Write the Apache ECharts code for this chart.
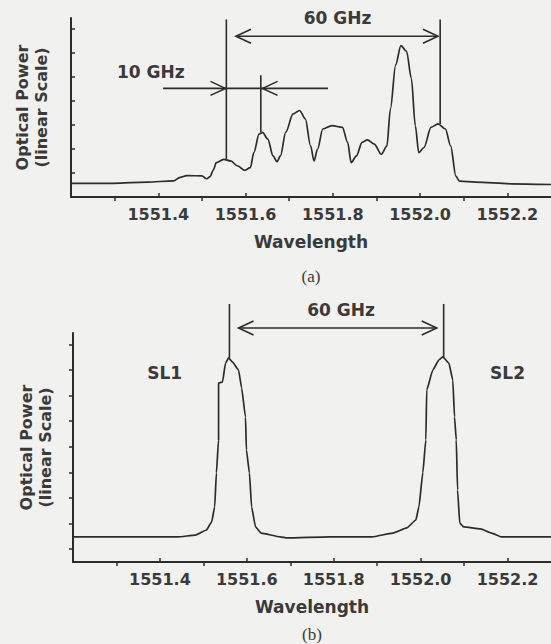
<!DOCTYPE html>
<html><head><meta charset="utf-8">
<script src="https://cdn.jsdelivr.net/npm/echarts@6/dist/echarts.min.js"></script>
<style>html,body{margin:0;padding:0;background:#f1f1ef}#c{width:551px;height:644px}</style>
</head><body><div id="c"></div><script>
// ---------- data ----------
const majorTicks = [1551.4, 1551.6, 1551.8, 1552.0, 1552.2];
const minorTicks = [1551.3, 1551.5, 1551.7, 1551.9, 1552.1];
const yTicksA = [1, 2, 3, 4, 5, 6, 7];
const yTicksB = [0, 1, 2, 3, 4, 5, 6, 7, 8];

// panel (a): optical power vs wavelength
const aWave = [
  1551.200, 1551.297, 1551.374, 1551.435, 1551.450, 1551.465, 1551.500, 1551.511, 1551.519, 1551.526,
  1551.533, 1551.550, 1551.566, 1551.582, 1551.598, 1551.611, 1551.619, 1551.631, 1551.639, 1551.651,
  1551.663, 1551.672, 1551.680, 1551.692, 1551.709, 1551.724, 1551.737, 1551.749, 1551.757, 1551.765,
  1551.777, 1551.798, 1551.822, 1551.834, 1551.842, 1551.854, 1551.867, 1551.879, 1551.895, 1551.911,
  1551.924, 1551.932, 1551.944, 1551.956, 1551.969, 1551.980, 1551.989, 1551.997, 1552.009, 1552.025,
  1552.041, 1552.058, 1552.070, 1552.082, 1552.090, 1552.127, 1552.208, 1552.300];
const aPower = [
  0.57, 0.57, 0.62, 0.67, 0.82, 0.89, 0.88, 0.76, 0.85, 1.12,
  1.43, 1.57, 1.50, 1.29, 1.11, 1.22, 1.85, 2.62, 2.69, 2.41,
  1.71, 1.47, 1.71, 2.69, 3.46, 3.60, 3.25, 2.13, 1.50, 1.99,
  2.83, 2.97, 2.90, 2.27, 1.43, 1.71, 2.27, 2.38, 2.20, 1.78,
  2.13, 3.67, 5.50, 6.30, 6.06, 4.94, 2.97, 1.85, 2.06, 2.90,
  3.04, 2.83, 2.13, 0.87, 0.66, 0.62, 0.55, 0.52];

// panel (b)
const bWave = [
  1551.200, 1551.331, 1551.441, 1551.482, 1551.507, 1551.519, 1551.526, 1551.530, 1551.535, 1551.535,
  1551.537, 1551.544, 1551.551, 1551.558, 1551.567, 1551.581, 1551.588, 1551.597, 1551.599, 1551.606,
  1551.611, 1551.620, 1551.633, 1551.677, 1551.693, 1551.789, 1551.888, 1551.936, 1551.968, 1551.989,
  1551.996, 1552.005, 1552.012, 1552.014, 1552.028, 1552.042, 1552.051, 1552.065, 1552.074, 1552.078,
  1552.082, 1552.085, 1552.090, 1552.099, 1552.138, 1552.163, 1552.186, 1552.300];
const bPower = [
  0.48, 0.48, 0.48, 0.55, 0.75, 1.06, 1.65, 2.98, 4.27, 6.49,
  6.50, 6.53, 7.27, 7.47, 7.31, 7.00, 6.30, 5.16, 3.88, 2.98,
  1.65, 0.87, 0.63, 0.48, 0.44, 0.48, 0.48, 0.63, 0.83, 1.14,
  1.65, 2.98, 4.27, 6.22, 7.00, 7.39, 7.51, 7.27, 6.61, 5.16,
  4.27, 2.31, 1.02, 0.87, 0.79, 0.63, 0.48, 0.48];

// annotations (data units)
const aVlines = [[1551.556, 7.39, 1.57], [1551.635, 5.07, 2.69], [1552.046, 7.39, 3.04]];
const aHlines = [[1551.578, 1552.041, 6.69], [1551.411, 1551.789, 4.52]];
const aHeads = [[1551.578, 6.69, -1], [1552.041, 6.69, 1], [1551.554, 4.52, 1], [1551.639, 4.52, -1]];
const aTextPos = [[1551.811, 7.46], [1551.383, 5.22]];
const aTextLabels = ['60 GHz', '10 GHz'];

const bVlines = [[1551.560, 9.58, 7.47], [1552.053, 9.58, 7.51]];
const bHlines = [[1551.581, 1552.037, 8.64]];
const bHeads = [[1551.581, 8.64, -1], [1552.037, 8.64, 1]];
const bTextPos = [[1551.817, 9.34], [1551.411, 6.88], [1552.200, 6.88]];
const bTextLabels = ['60 GHz', 'SL1', 'SL2'];

// ---------- styling ----------
const INK = '#2c2c2c', TXT = '#3a3a3a';
const FAM = '"DejaVu Sans", sans-serif';

function zip(xs, ys) { return xs.map((x, i) => [x, ys[i]]); }

function xAxesFor(g, nameGap) {
  return [{
    gridIndex: g, type: 'value', min: 1551.2, max: 1552.3, interval: 0.2,
    axisLine: { show: true, onZero: false, lineStyle: { color: INK, width: 2 } },
    axisTick: { show: true, inside: true, length: 4, customValues: majorTicks, lineStyle: { color: INK, width: 1.5 } },
    axisLabel: { customValues: majorTicks, formatter: v => v.toFixed(1), fontFamily: FAM, fontWeight: 'bold',
      fontSize: 16, color: TXT, margin: 9 },
    splitLine: { show: false },
    name: 'Wavelength', nameLocation: 'middle', nameGap: nameGap,
    nameTextStyle: { fontFamily: FAM, fontWeight: 'bold', fontSize: 17, color: TXT }
  }, {
    gridIndex: g, type: 'value', min: 1551.2, max: 1552.3, position: 'bottom',
    axisLine: { show: false, onZero: false },
    axisTick: { show: true, inside: false, length: 4, customValues: minorTicks, lineStyle: { color: INK, width: 1.5 } },
    axisLabel: { show: false }, splitLine: { show: false }
  }];
}

function annoSeries(xi, yi, vl, hl, hd, tp, tl) {
  const base = { type: 'custom', xAxisIndex: xi, yAxisIndex: yi, clip: false, silent: true, z: 5 };
  return [
    Object.assign({}, base, { data: vl, renderItem: (p, api) => {
      const a = api.coord([api.value(0), api.value(1)]);
      const b = api.coord([api.value(0), api.value(2)]);
      return { type: 'line', shape: { x1: a[0], y1: a[1], x2: b[0], y2: b[1] }, style: { stroke: INK, lineWidth: 1.6 } };
    } }),
    Object.assign({}, base, { data: hl, renderItem: (p, api) => {
      const a = api.coord([api.value(0), api.value(2)]);
      const b = api.coord([api.value(1), api.value(2)]);
      return { type: 'line', shape: { x1: a[0], y1: a[1], x2: b[0], y2: b[1] }, style: { stroke: INK, lineWidth: 1.6 } };
    } }),
    Object.assign({}, base, { data: hd, renderItem: (p, api) => {
      const c = api.coord([api.value(0), api.value(1)]);
      const d = api.value(2);
      return { type: 'polyline', shape: { points: [[c[0] - d * 15, c[1] - 7], [c[0], c[1]], [c[0] - d * 15, c[1] + 7]] },
        style: { stroke: INK, lineWidth: 1.6, fill: null } };
    } }),
    Object.assign({}, base, { data: tp, renderItem: (p, api) => {
      const c = api.coord([api.value(0), api.value(1)]);
      return { type: 'text', x: c[0], y: c[1], style: { text: tl[p.dataIndex], fill: TXT,
        font: 'bold 17px ' + FAM, align: 'center', verticalAlign: 'middle' } };
    } })
  ];
}

const yName = 'Optical Power\n(linear Scale)';
const yNameStyle = { fontFamily: FAM, fontWeight: 'bold', fontSize: 16, lineHeight: 19, color: TXT };

const option = {
  animation: false,
  backgroundColor: '#f1f1ef',
  grid: [
    { left: 71, top: 18, width: 480, height: 179 },
    { left: 73, top: 333, width: 478, height: 229 }
  ],
  xAxis: [].concat(xAxesFor(0, 36), xAxesFor(1, 36)),
  yAxis: [{
    gridIndex: 0, type: 'value', min: 0, max: 7.45,
    axisLine: { show: true, onZero: false, lineStyle: { color: INK, width: 2 } },
    axisTick: { show: true, inside: true, length: 4, customValues: yTicksA, lineStyle: { color: INK, width: 1.5 } },
    axisLabel: { show: false }, splitLine: { show: false },
    name: yName, nameLocation: 'middle', nameRotate: 90, nameGap: 20, nameTextStyle: yNameStyle
  }, {
    gridIndex: 1, type: 'value', min: -0.5, max: 8.445,
    axisLine: { show: true, onZero: false, lineStyle: { color: INK, width: 2 } },
    axisTick: { show: true, inside: false, length: 4, customValues: yTicksB, lineStyle: { color: INK, width: 1.5 } },
    axisLabel: { show: false }, splitLine: { show: false },
    name: yName, nameLocation: 'middle', nameRotate: 90, nameGap: 18, nameTextStyle: yNameStyle
  }],
  series: [
    { type: 'line', xAxisIndex: 0, yAxisIndex: 0, data: zip(aWave, aPower), showSymbol: false,
      smooth: 0.3, smoothMonotone: 'x', lineStyle: { color: INK, width: 1.7 }, silent: true },
    { type: 'line', xAxisIndex: 2, yAxisIndex: 1, data: zip(bWave, bPower), showSymbol: false,
      smooth: 0.15, smoothMonotone: 'x', lineStyle: { color: INK, width: 1.7 }, silent: true }
  ].concat(
    annoSeries(0, 0, aVlines, aHlines, aHeads, aTextPos, aTextLabels),
    annoSeries(2, 1, bVlines, bHlines, bHeads, bTextPos, bTextLabels)
  ),
  graphic: [
    { type: 'text', x: 311, y: 276, style: { text: '(a)', font: '17px "Liberation Serif", serif', fill: TXT, align: 'center', verticalAlign: 'middle' } },
    { type: 'text', x: 312, y: 634, style: { text: '(b)', font: '17px "Liberation Serif", serif', fill: TXT, align: 'center', verticalAlign: 'middle' } }
  ]
};

const chart = echarts.init(document.getElementById('c'), null, { renderer: 'svg' });
chart.setOption(option);
</script></body></html>
